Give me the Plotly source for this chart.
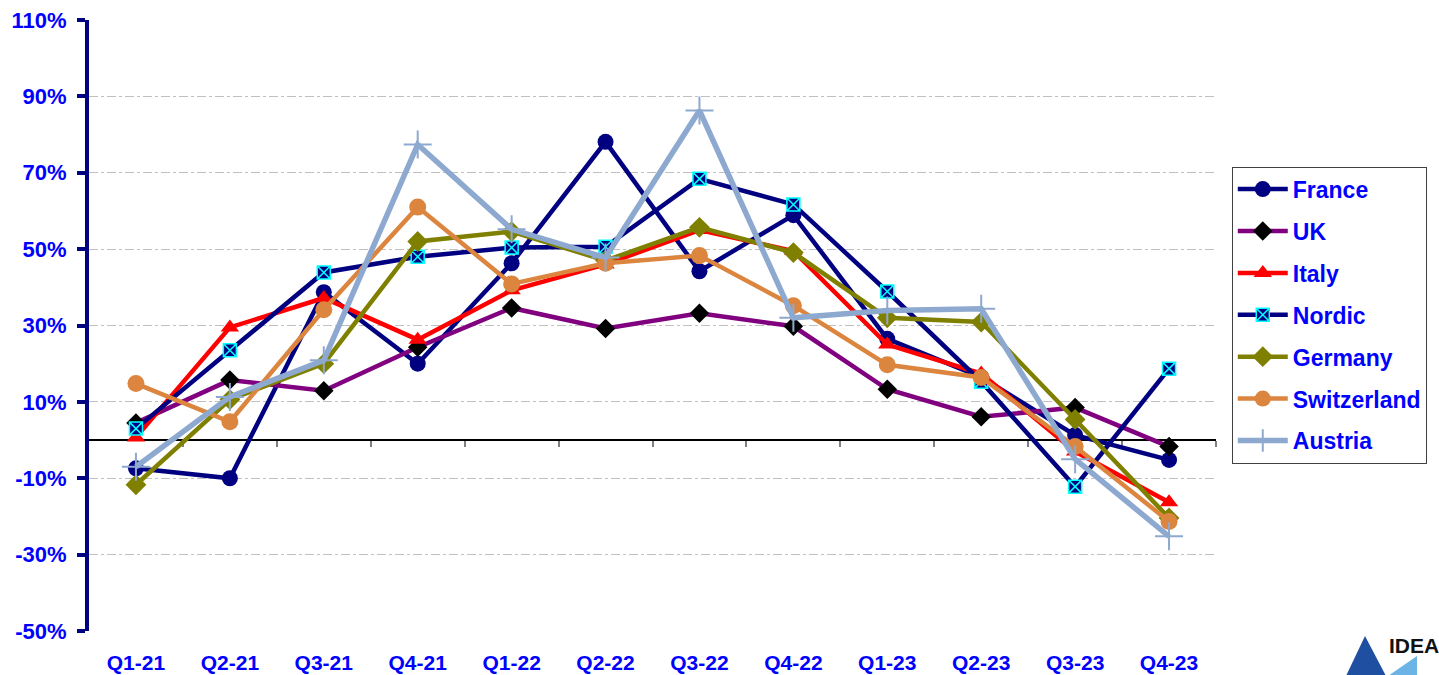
import plotly.graph_objects as go

quarters = ["Q1-21", "Q2-21", "Q3-21", "Q4-21", "Q1-22", "Q2-22",
            "Q3-22", "Q4-22", "Q1-23", "Q2-23", "Q3-23", "Q4-23"]

france      = [-7.4, -10.0, 38.7, 20.0, 46.3, 78.1, 44.2, 58.9, 26.5, 16.5, 1.3, -5.2]
uk          = [4.5, 15.7, 12.9, 24.3, 34.6, 29.2, 33.2, 29.8, 13.3, 6.1, 8.5, -1.7]
italy       = [0.7, 29.5, 37.2, 26.3, 39.2, 46.0, 55.0, 49.5, 25.0, 17.4, -3.0, -16.3]
nordic      = [3.0, 23.5, 43.9, 48.0, 50.4, 50.6, 68.4, 61.7, 38.9, 15.3, -12.2, 18.7]
germany     = [-11.7, 10.6, 20.0, 52.0, 54.6, 47.0, 55.7, 49.1, 32.0, 30.9, 5.4, -20.4]
switzerland = [14.8, 4.8, 34.1, 61.0, 40.9, 46.3, 48.3, 35.2, 19.7, 16.4, -1.7, -21.3]
austria     = [-7.0, 11.3, 20.9, 77.4, 55.2, 47.8, 86.3, 32.0, 33.9, 34.4, -5.0, -25.2]

y_ticks = [-50, -30, -10, 10, 30, 50, 70, 90, 110]
y_labels = ["-50%", "-30%", "-10%", "10%", "30%", "50%", "70%", "90%", "110%"]

BLUE = "#0000FF"
NAVY = "#000080"
FONT = "Liberation Sans, Arial, sans-serif"

series = [
    ("France", france, NAVY, 4.5, dict(symbol="circle", size=16, color=NAVY)),
    ("UK", uk, "#800080", 4.5, dict(symbol="diamond", size=15, color="#000000")),
    ("Italy", italy, "#FF0000", 4.5, dict(symbol="triangle-up", size=16, color="#FF0000")),
    ("Nordic", nordic, NAVY, 4.5, dict(symbol="square-x", size=13, color=NAVY,
                                       line=dict(color="#00FFFF", width=1.5))),
    ("Germany", germany, "#808000", 4.5, dict(symbol="diamond", size=16, color="#808000")),
    ("Switzerland", switzerland, "#DC853F", 4.5, dict(symbol="circle", size=17, color="#DC853F")),
    ("Austria", austria, "#8EA9D0", 5.5, dict(symbol="cross-thin", size=20, color="#8EA9D0",
                                             line=dict(color="#8EA9D0", width=2))),
]

fig = go.Figure()
for i, (name, vals, col, w, mk) in enumerate(series):
    fig.add_trace(go.Scatter(
        x=quarters, y=vals, name=name, mode="lines+markers",
        line=dict(color=col, width=w), marker=mk, legendgroup=f"g{i}",
    ))

# invisible helper trace for zero-line axis
fig.add_trace(go.Scatter(x=[0], y=[0], xaxis="x2", yaxis="y", mode="markers",
                         marker=dict(opacity=0), showlegend=False, hoverinfo="skip"))

fig.update_layout(
    width=1439, height=675,
    margin=dict(l=89, r=223, t=20, b=44, autoexpand=False),
    paper_bgcolor="white", plot_bgcolor="white",
    font=dict(family=FONT, color=BLUE, size=20, weight="bold"),
    showlegend=True,
    legend=dict(x=1.014, y=0.76, xanchor="left", yanchor="top",
                bordercolor="#404040", borderwidth=1, itemwidth=50,
                font=dict(family=FONT, color=BLUE, size=23, weight="bold"),
                tracegroupgap=9, traceorder="grouped"),
    xaxis=dict(type="category", categoryorder="array", categoryarray=quarters,
               range=[-0.5, 11.5], showgrid=False, showline=False, ticks="",
               zeroline=False, ticklabelstandoff=17, automargin=False,
               tickfont=dict(family=FONT, color=BLUE, size=21, weight="bold")),
    xaxis2=dict(overlaying="x", anchor="free", position=50 / 160,
                range=[-0.5, 11.5], tickvals=[0.5 + k for k in range(11)] + [11.5],
                showticklabels=False, ticks="outside", ticklen=6, tickwidth=1.5,
                tickcolor="#808080", showline=True, linecolor="#000000", linewidth=1.5,
                showgrid=False, zeroline=False, layer="below traces", automargin=False),
    yaxis=dict(range=[-50, 110], tickvals=y_ticks, ticktext=y_labels,
               showgrid=True, gridcolor="#C0C0C0", gridwidth=1, griddash="dashdot",
               showline=True, linecolor=NAVY, linewidth=4,
               ticks="outside", ticklen=8, tickwidth=4, tickcolor=NAVY,
               zeroline=False, ticklabelstandoff=6, automargin=False,
               tickfont=dict(family=FONT, color=BLUE, size=22, weight="bold")),
)

# IDEA logo (bottom right)
def px(x):
    return (x - 89) / 1127
def py(y):
    return (631 - y) / 611

fig.add_shape(type="path", xref="paper", yref="paper",
              path=f"M {px(1346)} {py(676)} L {px(1365)} {py(636)} L {px(1386)} {py(676)} Z",
              fillcolor="#1F4FA0", line=dict(width=0))
fig.add_shape(type="path", xref="paper", yref="paper",
              path=f"M {px(1388)} {py(676)} L {px(1417)} {py(656)} L {px(1417)} {py(676)} Z",
              fillcolor="#6CB4E6", line=dict(width=0))
fig.add_annotation(xref="paper", yref="paper", x=px(1387), y=py(645),
                   xanchor="left", yanchor="middle", text="IDEA", showarrow=False,
                   font=dict(family=FONT, color="#111111", size=21, weight="bold"))

# remove the browser's default page margin so the figure sits at the window's corner
fig.write_html("out.html", config={"displayModeBar": False},
               post_script="document.body.style.margin='0';")
